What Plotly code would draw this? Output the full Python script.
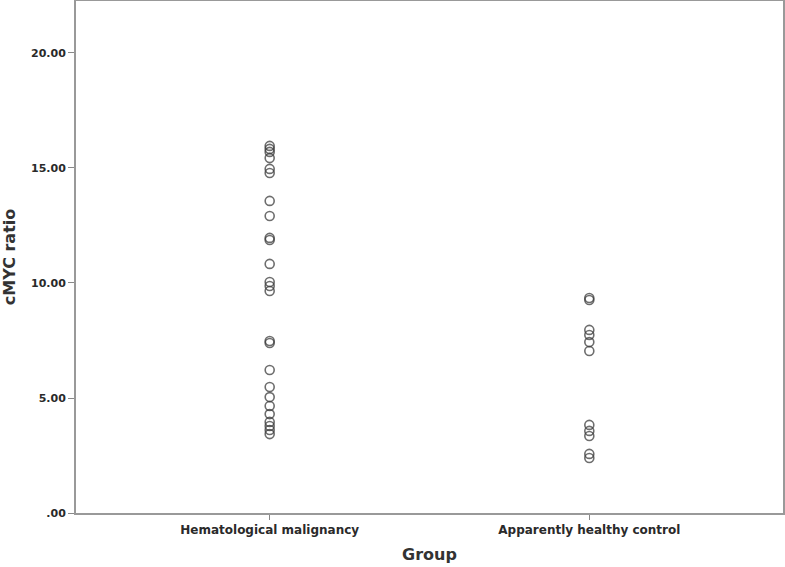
import plotly.graph_objects as go

# group labels and cMYC ratio values
groups = ["Hematological malignancy", "Apparently healthy control"]
malignancy_ratio = [15.96, 15.83, 15.70, 15.43, 14.96, 14.78, 13.57, 12.91, 11.96, 11.87,
                    10.83, 10.04, 9.87, 9.65, 7.48, 7.39, 6.22, 5.48, 5.04, 4.65,
                    4.30, 3.96, 3.78, 3.61, 3.43]
control_ratio = [9.35, 9.26, 7.96, 7.74, 7.43, 7.04, 3.83, 3.57, 3.35, 2.57, 2.39]
y_ticks = [0, 5, 10, 15, 20]
y_ticktext = [".00", "5.00", "10.00", "15.00", "20.00"]

x = [groups[0]] * len(malignancy_ratio) + [groups[1]] * len(control_ratio)
y = malignancy_ratio + control_ratio

fig = go.Figure()
fig.add_trace(go.Scatter(
    x=x, y=y,
    mode="markers",
    marker=dict(symbol="circle-open", size=9, color="rgba(60,60,60,0.75)",
                line=dict(width=1.6)),
    showlegend=False,
    hoverinfo="x+y"
))

FONT = "DejaVu Sans"

fig.update_layout(
    width=785, height=567,
    margin=dict(l=76, r=2, t=1, b=54),
    plot_bgcolor="white",
    paper_bgcolor="white",
    xaxis=dict(
        type="category",
        categoryorder="array",
        categoryarray=groups,
        range=[-0.606, 1.606],
        automargin=False,
        showline=True, mirror=True, linecolor="#999999", linewidth=2,
        ticks="outside", ticklen=5, tickcolor="#888888", tickwidth=1,
        tickfont=dict(family=FONT, size=12, color="#2a2a2a", weight="bold"),
        showgrid=False, zeroline=False,
        title=dict(text="Group", standoff=12,
                   font=dict(family=FONT, size=16, color="#333333", weight="bold"))
    ),
    yaxis=dict(
        range=[0, 22.26],
        tickvals=y_ticks, ticktext=y_ticktext,
        automargin=False,
        showline=True, mirror=True, linecolor="#999999", linewidth=2,
        ticks="outside", ticklen=6, tickcolor="#888888", tickwidth=1,
        tickfont=dict(family=FONT, size=11, color="#2a2a2a", weight="bold"),
        showgrid=False, zeroline=False,
        title=dict(text="cMYC ratio", standoff=12,
                   font=dict(family=FONT, size=16, color="#333333", weight="bold"))
    ),
)

# page body has a default 8px margin; drop it so the figure sits at the window origin
fig.write_html("out.html", config={"displayModeBar": False},
               post_script="document.body.style.margin='0';")
